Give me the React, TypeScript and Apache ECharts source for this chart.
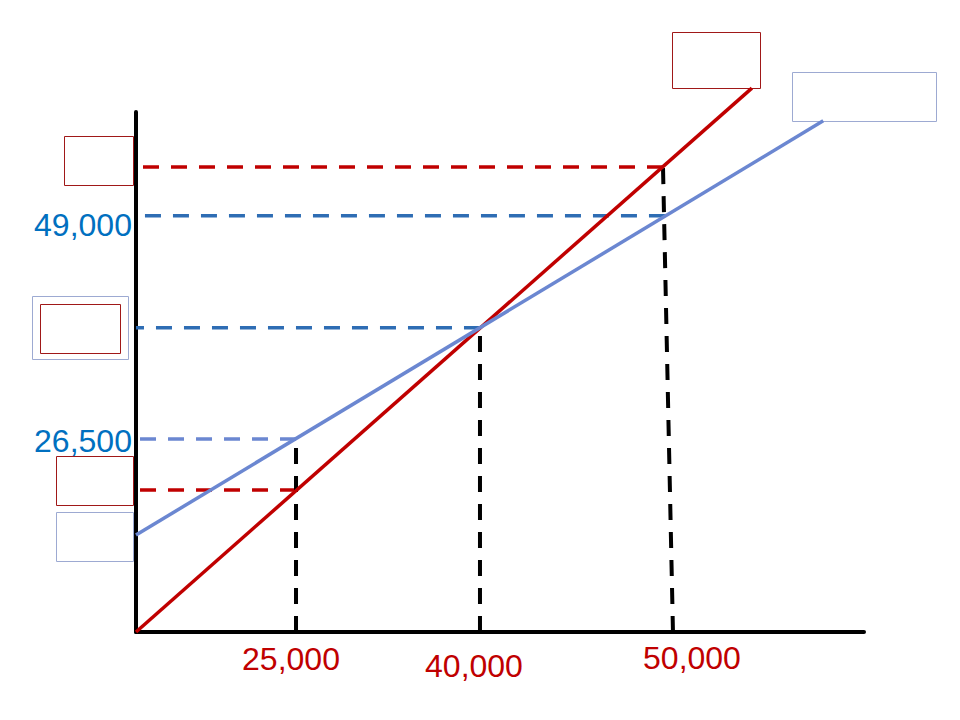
import React, { useEffect, useRef } from 'react';
import * as echarts from 'echarts';

// Schematic chart: both axes run 0–100 in chart units (the original is not to scale)
const xTickLabels = ['25,000', '40,000', '50,000'];
const yTickLabels = ['49,000', '26,500'];

// x positions of the three marked quantities
const keyX = [21.98, 47.25, 72.45];
// foot of the (slightly slanted) 50,000 drop line
const slantFootX = 73.76;

// red (revenue) and blue (cost) lines
const revenueLine = [[0, 0], [84.6, 104.6]];
const costLine = [[0, 18.65], [94.4, 98.3]];

// values of the lines at the key x positions
const revenueAtKey = [27.3, 58.5, 89.4];
const costAtKey = [37.1, 58.5, 80.05];

// where the horizontal guides to the y axis end (left ends)
const redGuideStart = [0, -1.1];
const blueGuideStart = [0, 0, -2.2];

const RED = '#C00000';
const BLUE_LINE = '#6B87D1';
const BLUE_DASH = '#2E6DB4';
const BLUE_TEXT = '#0070C0';
const BOX_RED = '#A01818';
const BOX_BLUE = '#9DAAD2';
const FONT = '"Liberation Sans", Arial, sans-serif';

function dashed(name: string, data: number[][], color: string, width = 3.5) {
  return {
    name,
    type: 'line',
    data,
    symbol: 'none',
    clip: false,
    silent: true,
    z: 1,
    lineStyle: { color, width, type: [16, 12] },
  };
}

export default function App() {
  const ref = useRef<HTMLDivElement>(null);
  useEffect(() => {
    if (!ref.current) return;
    const chart = echarts.init(ref.current, undefined, { renderer: 'svg' });

    const series: any[] = [
      // horizontal guides (drawn from the line toward the axis)
      dashed('red-50k', [[keyX[2] - 0.06, revenueAtKey[2]], [redGuideStart[1], revenueAtKey[2]]], RED),
      dashed('blue-50k', [[keyX[2] + 0.21, costAtKey[2]], [blueGuideStart[2], costAtKey[2]]], BLUE_DASH),
      dashed('blue-40k', [[keyX[1], costAtKey[1]], [blueGuideStart[1], costAtKey[1]]], BLUE_DASH),
      dashed('blue-25k', [[keyX[0], costAtKey[0]], [blueGuideStart[0], costAtKey[0]]], BLUE_LINE),
      dashed('red-25k', [[keyX[0], revenueAtKey[0]], [redGuideStart[0], revenueAtKey[0]]], RED),
      // vertical drop lines (drawn from the axis upward)
      dashed('v-25k', [[keyX[0], 0], [keyX[0], costAtKey[0]]], '#000', 4),
      dashed('v-40k', [[keyX[1], 0], [keyX[1], costAtKey[1]]], '#000', 4),
      dashed('v-50k', [[slantFootX, 0], [keyX[2] - 0.06, revenueAtKey[2]]], '#000', 4),
      {
        name: 'revenue',
        type: 'line',
        data: revenueLine,
        symbol: 'none',
        clip: false,
        silent: true,
        z: 3,
        lineStyle: { color: RED, width: 3.5 },
      },
      {
        name: 'cost',
        type: 'line',
        data: costLine,
        symbol: 'none',
        clip: false,
        silent: true,
        z: 4,
        lineStyle: { color: BLUE_LINE, width: 3.5 },
      },
      {
        name: 'x-labels',
        type: 'scatter',
        symbolSize: 0.1,
        silent: true,
        itemStyle: { color: 'rgba(0,0,0,0)', opacity: 1 },
        label: {
          show: true,
          position: 'inside',
          color: RED,
          opacity: 1,
          textBorderWidth: 0,
          fontSize: 32,
          fontFamily: FONT,
          formatter: (p: any) => p.name,
        },
        data: [
          { name: xTickLabels[0], value: [keyX[0], 0], label: { offset: [-5, 27] } },
          { name: xTickLabels[1], value: [keyX[1], 0], label: { offset: [-6, 34] } },
          { name: xTickLabels[2], value: [slantFootX, 0], label: { offset: [19, 26] } },
        ],
      },
      {
        name: 'y-labels',
        type: 'scatter',
        symbolSize: 0.1,
        silent: true,
        itemStyle: { color: 'rgba(0,0,0,0)', opacity: 1 },
        label: {
          show: true,
          position: 'left',
          distance: 4,
          color: BLUE_TEXT,
          opacity: 1,
          textBorderWidth: 0,
          fontSize: 32,
          fontFamily: FONT,
          formatter: (p: any) => p.name,
        },
        data: [
          { name: yTickLabels[0], value: [0, costAtKey[2]], label: { offset: [0, 9] } },
          { name: yTickLabels[1], value: [0, costAtKey[0]], label: { offset: [0, 1.5] } },
        ],
      },
    ];

    const box = (x: number, y: number, w: number, h: number, stroke: string) => ({
      type: 'rect',
      shape: { x, y, width: w, height: h },
      style: { fill: 'none', stroke, lineWidth: 1 },
      silent: true,
      z: 1,
    });

    chart.setOption({
      animation: false,
      backgroundColor: '#fff',
      grid: { left: 136, top: 112, right: 96, bottom: 88 },
      xAxis: {
        type: 'value',
        min: 0,
        max: 100,
        axisLine: { show: true, lineStyle: { color: '#000', width: 4 } },
        axisTick: { show: false },
        axisLabel: { show: false },
        splitLine: { show: false },
      },
      yAxis: {
        type: 'value',
        min: 0,
        max: 100,
        axisLine: { show: true, lineStyle: { color: '#000', width: 4 } },
        axisTick: { show: false },
        axisLabel: { show: false },
        splitLine: { show: false },
      },
      graphic: [
        box(672.5, 32.5, 88, 56, BOX_RED),
        box(792.5, 72.5, 144, 49, BOX_BLUE),
        box(64.5, 136.5, 69, 49, BOX_RED),
        box(32.5, 296.5, 96, 63, BOX_BLUE),
        box(40.5, 304.5, 80, 49, BOX_RED),
        box(56.5, 456.5, 77, 49, BOX_RED),
        box(56.5, 512.5, 77, 49, BOX_BLUE),
      ],
      series,
    });
    return () => chart.dispose();
  }, []);

  return (
    <div
      ref={ref}
      style={{ position: 'fixed', left: 0, top: 0, width: 960, height: 720, background: '#fff' }}
    />
  );
}
